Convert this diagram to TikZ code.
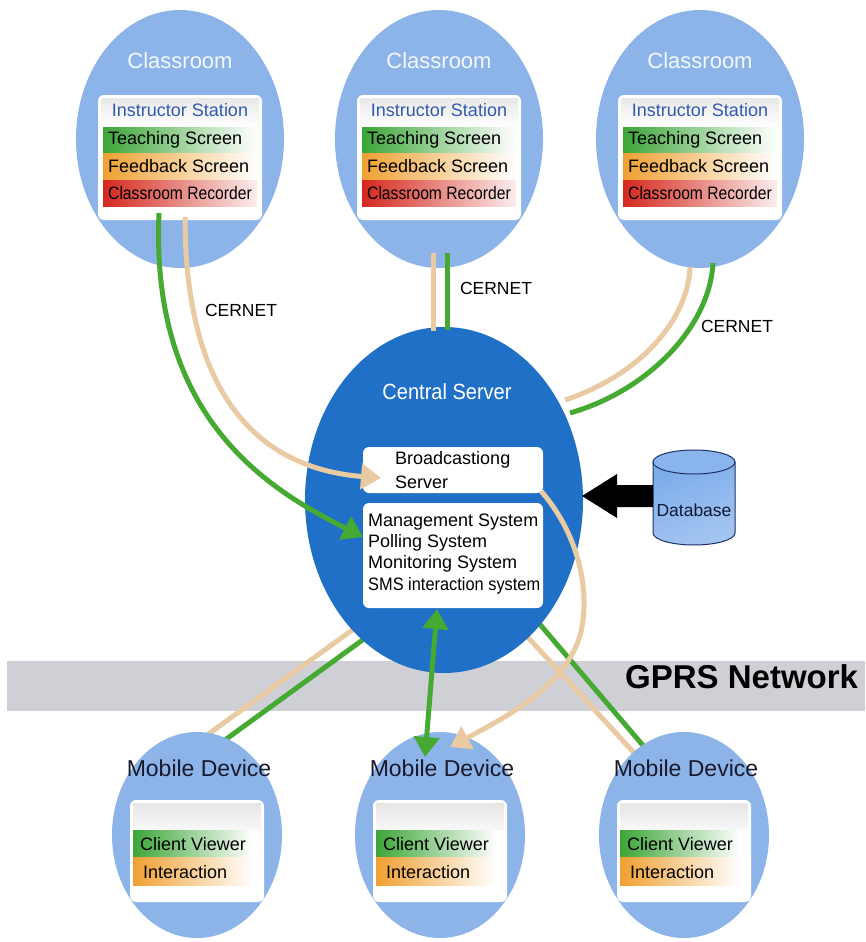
\documentclass[tikz,border=0pt]{standalone}
\usepackage{fontspec}
\setmainfont{Liberation Sans}
\usepackage{graphicx}
\usetikzlibrary{shapes.geometric,arrows.meta,calc}
\definecolor{lblue}{RGB}{141,180,232}
\definecolor{cblue}{RGB}{32,112,200}
\definecolor{lgreen}{RGB}{70,170,50}
\definecolor{ltan}{RGB}{233,202,163}
\definecolor{bandgray}{RGB}{207,208,213}
\definecolor{isblue}{RGB}{50,90,175}
\definecolor{tgreen}{RGB}{60,165,55}
\definecolor{forange}{RGB}{240,160,50}
\definecolor{rred}{RGB}{212,40,30}
\definecolor{navy}{RGB}{30,50,100}
\definecolor{dbblue}{RGB}{125,172,235}
\definecolor{mdtext}{RGB}{25,25,45}
\newcommand{\fsz}[1]{\fontsize{#1}{#1}\selectfont}
\begin{document}
\begin{tikzpicture}[x=1pt,y=-1pt,
  ell/.style={ellipse, inner sep=0pt, fill=lblue},
  ibox/.style={fill=white, rounded corners=6pt, inner sep=0pt},
  gline/.style={draw=lgreen, line width=5pt},
  tline/.style={draw=ltan, line width=5pt},
  tipend/.style={-{Triangle[length=20pt,width=25pt]}},
  tipboth/.style={{Triangle[length=20pt,width=25pt]}-{Triangle[length=20pt,width=25pt]}},
  lbl/.style={font=\fsz{17.5}, text=black, inner sep=0pt},
  btxt/.style={font=\fsz{18}, text=black, anchor=west, inner sep=0pt}
]
\useasboundingbox (0,0) rectangle (865,942);
\fill[white] (0,0) rectangle (865,942);
% GPRS band
\fill[bandgray] (7,661) rectangle (865,711);

% lines behind central server to mobile devices 1 and 3
\coordinate (tm1a) at (380,610); \coordinate (tm1b) at (207,735);
\coordinate (gm1a) at (390,620); \coordinate (gm1b) at (225,740);
\coordinate (gm3a) at (526,608); \coordinate (gm3b) at (646,749);
\coordinate (tm3a) at (513,621); \coordinate (tm3b) at (636,755);
\draw[tline] (tm1a) -- (tm1b);
\draw[gline] (gm1a) -- (gm1b);
\draw[tline] (tm3a) -- (tm3b);
\draw[gline] (gm3a) -- (gm3b);

% central server
\node[ellipse, inner sep=0pt, fill=cblue, minimum width=278pt, minimum height=346pt] (cs) at (444,500) {};

% classrooms
\foreach \cx/\n in {180/1,439/2,700/3}{
  \node[ell, minimum width=208pt, minimum height=258pt] (c\n) at (\cx,139) {};
  \node[ibox, minimum width=164pt, minimum height=125pt] (b\n) at (\cx,157.5) {};
  \shade[top color=gray!18, bottom color=white] ({\cx-79},98) rectangle ({\cx+79},127);
  \shade[left color=tgreen, middle color=tgreen!30, right color=white] ({\cx-77},127) rectangle ({\cx+77},153);
  \shade[left color=forange, middle color=forange!40, right color=white] ({\cx-77},153) rectangle ({\cx+77},180);
  \shade[left color=rred, middle color=rred!55, right color=rred!8] ({\cx-77},180) rectangle ({\cx+77},206);
  \node[font=\fsz{22}, text=white!90!lblue, inner sep=0pt] (ct\n) at (\cx,61) {Classroom};
  \node[font=\fsz{18}, text=isblue, inner sep=0pt] (is\n) at (\cx,110) {Instructor Station};
  \node[btxt] (ts\n) at ({\cx-72},140) {Teaching Screen};
  \node[btxt] (fs\n) at ({\cx-72},166.5) {Feedback Screen};
  \node[btxt] (cr\n) at ({\cx-72},193) {\scalebox{0.87}[1]{Classroom Recorder}};
}

% mobile devices
\foreach \mx/\n in {197/1,440/2,684/3}{
  \node[ell, minimum width=170pt, minimum height=206pt] (m\n) at (\mx,835) {};
  \node[ibox, minimum width=134pt, minimum height=102pt] (mb\n) at (\mx,851) {};
  \shade[top color=gray!20, bottom color=gray!5] ({\mx-64},803) rectangle ({\mx+64},830);
  \shade[left color=tgreen, middle color=tgreen!30, right color=white] ({\mx-64},830) rectangle ({\mx+56},857);
  \shade[left color=forange, middle color=forange!40, right color=white] ({\mx-64},857) rectangle ({\mx+56},885);
  \node[font=\fsz{23}, text=mdtext, inner sep=0pt] (md\n) at ({\mx+2},768) {Mobile Device};
  \node[btxt] (cv\n) at ({\mx-57},844) {Client Viewer};
  \node[btxt] (ia\n) at ({\mx-54},872) {Interaction};
}

% central server inner boxes
\node[font=\fsz{22}, text=white, inner sep=0pt] (cst) at (447,392) {\scalebox{0.91}[1]{Central Server}};
\node[ibox, minimum width=180pt, minimum height=46pt] (bs) at (453,470) {};
\node[ibox, minimum width=180pt, minimum height=105pt] (ms) at (453,555.5) {};
\node[btxt] (bs1) at (395,460) {Broadcastiong};
\node[btxt] (bs2) at (395,482) {Server};
\node[btxt] (ms1) at (368,522) {Management System};
\node[btxt] (ms2) at (368,543) {Polling System};
\node[btxt] (ms3) at (368,564) {Monitoring System};
\node[btxt] (ms4) at (368,586) {\scalebox{0.91}[1]{SMS interaction system}};

% classroom connectors (CERNET)
\coordinate (g1a) at (159,213); \coordinate (g1b) at (363,537);
\coordinate (t1a) at (185,217); \coordinate (t1b) at (381,478);
\draw[gline, tipend] (g1a) .. controls (150,420) and (270,490) .. (g1b);
\draw[tline, tipend] (t1a) .. controls (185,420) and (280,470) .. (t1b);

\coordinate (t2a) at (433,253); \coordinate (t2b) at (433,331);
\coordinate (g2a) at (447,253); \coordinate (g2b) at (447,330);
\draw[tline] (t2a) -- (t2b);
\draw[gline] (g2a) -- (g2b);

\coordinate (t3a) at (690,267); \coordinate (t3b) at (565,400);
\coordinate (g3a) at (713,263); \coordinate (g3b) at (570,413);
\draw[tline] (t3a) .. controls (688,320) and (640,375) .. (t3b);
\draw[gline] (g3a) .. controls (710,325) and (650,390) .. (g3b);

% database
\node[minimum width=82pt, minimum height=95pt, inner sep=0pt] (db) at (694,497) {};
\shade[left color=dbblue, middle color=white, right color=dbblue!70, shading angle=20, draw=navy, line width=1pt]
  (653,462) -- (653,533) arc[start angle=180, end angle=360, x radius=41pt, y radius=12pt] -- (735,462) -- cycle;
\draw[fill=dbblue!90, draw=navy, line width=1pt] (694,462) ellipse[x radius=41pt, y radius=12pt];
\node[font=\fsz{17.5}, text=navy!50!black, inner sep=0pt] (dbt) at (694,510) {Database};
\coordinate (dbL) at (653,496);
\coordinate (csR) at (582,496);
\fill[black] (dbL) ++(0,-11) -- ++(-36,0) -- ++(0,-11) -- (csR) -- ++(35,22) -- ++(0,-11) -- ++(36,0) -- cycle;

% central server to mobile device 2
\coordinate (dba) at (437,609); \coordinate (dbb) at (425,757);
\draw[gline, tipboth] (dba) -- (dbb);
\coordinate (bca) at (541,491); \coordinate (bcm) at (583,620); \coordinate (bcb) at (450,747);
\draw[tline, tipend] (bca) .. controls (575,530) and (588,580) .. (bcm) .. controls (577,680) and (510,715) .. (bcb);

% labels
\node[lbl] (cn1) at (241,310) {CERNET};
\node[lbl] (cn2) at (496,288) {CERNET};
\node[lbl] (cn3) at (737,326) {CERNET};
\node[font=\bfseries\fsz{33}, text=black, anchor=west, inner sep=0pt] (gprs) at (625,677) {GPRS Network};
\end{tikzpicture}
\end{document}
